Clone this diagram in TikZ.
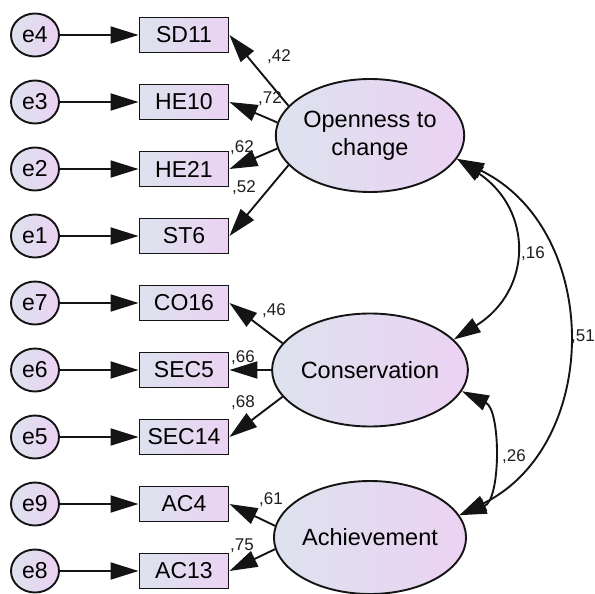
\documentclass[tikz,border=0pt]{standalone}
\usepackage{fontspec}
\setmainfont{Liberation Sans}
\usetikzlibrary{arrows.meta,shapes.geometric}

\definecolor{fillL}{HTML}{DDE2EE}
\definecolor{fillR}{HTML}{EBD2F3}
\definecolor{edge}{HTML}{141414}
\definecolor{coefcol}{HTML}{1E1E1E}

\tikzset{
  shade2/.style={left color=fillL, right color=fillR},
  obs/.style={draw=edge, line width=1.9pt, minimum width=89pt, minimum height=35pt,
    inner sep=0pt, shade2, font=\fontsize{23}{27}\selectfont},
  err/.style={ellipse, draw=edge, line width=1.9pt, minimum width=48pt, minimum height=43pt,
    inner sep=0pt, shade2, font=\fontsize{23}{27}\selectfont},
  lat/.style={ellipse, draw=edge, line width=1.9pt, minimum width=174pt, minimum height=113pt,
    inner sep=0pt, shade2, align=center, font=\fontsize{23.5}{28}\selectfont},
  arr/.style={draw=edge, line width=1.9pt, -{Triangle[length=28pt,width=17pt]}},
  cov/.style={draw=edge, line width=1.9pt,
    {Triangle[length=27pt,width=16pt]}-{Triangle[length=27pt,width=16pt]}},
  coef/.style={font=\fontsize{17}{19}\selectfont, text=coefcol, inner sep=0pt},
}

\begin{document}
\begin{tikzpicture}[x=1pt,y=-1pt]
\useasboundingbox (0,0) rectangle (595,594);

% error terms
\node[err] (e4) at (35,35)  {e4};
\node[err] (e3) at (35,102) {e3};
\node[err] (e2) at (35,169) {e2};
\node[err] (e1) at (35,236) {e1};
\node[err] (e7) at (35,303) {e7};
\node[err] (e6) at (35,370) {e6};
\node[err] (e5) at (35,437) {e5};
\node[err] (e9) at (35,504) {e9};
\node[err] (e8) at (35,571) {e8};

% observed items
\node[obs] (sd11)  at (184,35)  {SD11};
\node[obs] (he10)  at (184,102) {HE10};
\node[obs] (he21)  at (184,169) {HE21};
\node[obs] (st6)   at (184,236) {ST6};
\node[obs] (co16)  at (184,303) {CO16};
\node[obs] (sec5)  at (184,370) {SEC5};
\node[obs] (sec14) at (184,437) {SEC14};
\node[obs] (ac4)   at (184,504) {AC4};
\node[obs] (ac13)  at (184,571) {AC13};

% latent factors
\node[lat] (open) at (370,135.5) {Openness to\\change};
\node[lat] (cons) at (370,370)   {Conservation};
\node[lat] (ach)  at (370,537.5) {Achievement};

% error paths
\foreach \e/\o in {e4/sd11,e3/he10,e2/he21,e1/st6,e7/co16,e6/sec5,e5/sec14,e9/ac4,e8/ac13}
  \draw[arr] (\e.east) -- (\o.west);

% loadings
\draw[arr] (open.160) -- (sd11.east);
\draw[arr] (open.172) -- (he10.east);
\draw[arr] (open.188) -- (he21.east);
\draw[arr] (open.200) -- (st6.east);
\draw[arr] (cons.163) -- (co16.east);
\draw[arr] (cons.180) -- (sec5.east);
\draw[arr] (cons.197) -- (sec14.east);
\draw[arr] (ach.173) -- (ac4.east);
\draw[arr] (ach.187) -- (ac13.east);

% factor covariances
\draw[cov] (open.-15) .. controls (533,210) and (533,290) .. (cons.20);
\draw[cov] (open.-15) .. controls (602,230) and (602,445) .. (ach.14);
\draw[cov] (cons.-13) .. controls (501,410) and (501,500) .. (ach.14);

% coefficients
\node[coef] (c42) at (279,57)  {,42};
\node[coef] (c72) at (270,99)  {,72};
\node[coef] (c62) at (242,148) {,62};
\node[coef] (c52) at (244,188) {,52};
\node[coef] (c46) at (274,311) {,46};
\node[coef] (c66) at (243,358) {,66};
\node[coef] (c68) at (243,403) {,68};
\node[coef] (c61) at (271,500) {,61};
\node[coef] (c75) at (242,546) {,75};
\node[coef] (c16) at (533,254) {,16};
\node[coef] (c51) at (583,337) {,51};
\node[coef] (c26) at (514,457) {,26};
\end{tikzpicture}
\end{document}
